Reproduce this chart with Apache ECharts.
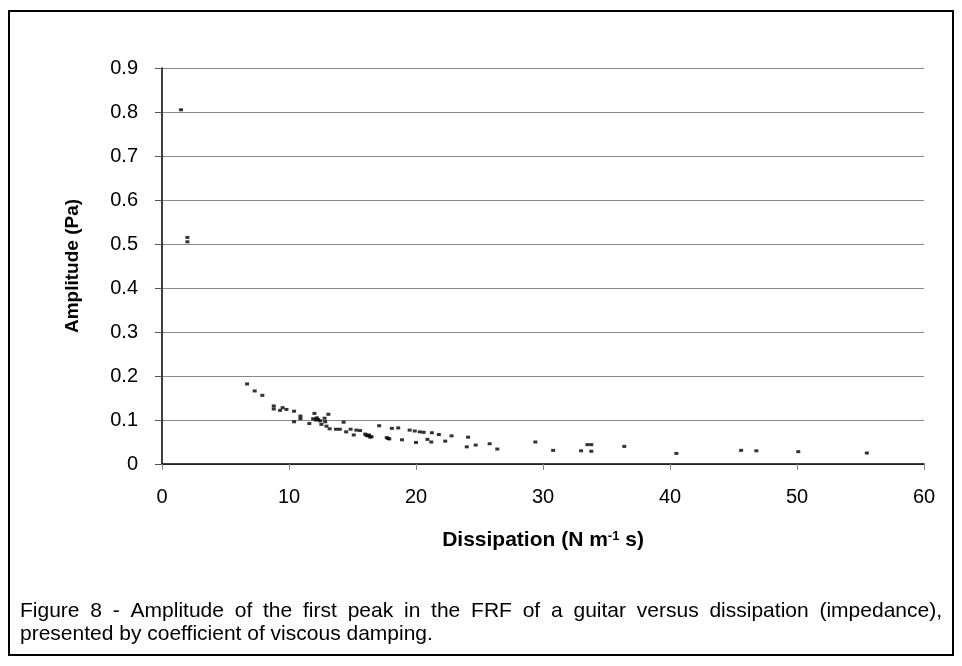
<!DOCTYPE html>
<html>
<head>
<meta charset="utf-8">
<script src="https://cdn.jsdelivr.net/npm/echarts@6/dist/echarts.min.js"></script>
<style>
  html, body { margin: 0; padding: 0; background: #fff; }
  #main { width: 962px; height: 666px; }
</style>
</head>
<body>
<div id="main"></div>
<script>
    // values
    const dissipation = [
        1.5, 2.0, 2.0,
        6.7, 7.3, 7.9, 8.8, 8.8, 9.3, 9.5, 9.8, 10.4, 10.4, 10.9, 10.9,
        11.6, 12.0, 11.9, 12.1, 12.2, 12.3, 12.45, 12.55, 12.8, 12.85, 13.1, 12.95,
        13.2, 13.7, 14.0, 14.3, 14.5, 14.85, 15.1, 15.3, 15.6, 16.0, 16.1, 16.2,
        16.3, 16.4, 16.5, 17.1, 17.7, 17.8, 17.9, 18.1, 18.6, 18.9, 19.5, 19.9,
        20.0, 20.3, 20.6, 20.9, 21.25, 21.2, 21.8, 22.3, 22.8, 24.1, 24.0, 24.7,
        25.8, 26.4, 29.4, 30.8, 33.0, 33.5, 33.8, 33.8, 36.4, 40.5, 45.6, 46.8,
        50.1, 55.5
    ];
    const amplitude = [
        0.805, 0.515, 0.505,
        0.182, 0.166, 0.156, 0.132, 0.125, 0.122, 0.128, 0.124, 0.120, 0.096, 0.109, 0.103,
        0.092, 0.115, 0.103, 0.100, 0.105, 0.101, 0.098, 0.090, 0.104, 0.096, 0.113, 0.086,
        0.080, 0.079, 0.079, 0.095, 0.073, 0.079, 0.066, 0.077, 0.076, 0.068, 0.065, 0.064,
        0.066, 0.061, 0.062, 0.087, 0.060, 0.058, 0.057, 0.081, 0.082, 0.055, 0.077, 0.075,
        0.049, 0.073, 0.072, 0.056, 0.071, 0.050, 0.067, 0.052, 0.064, 0.061, 0.039, 0.043,
        0.046, 0.034, 0.050, 0.031, 0.030, 0.044, 0.044, 0.029, 0.040, 0.024, 0.031, 0.030,
        0.028, 0.025
    ];
    const yTickLabels = ['0', '0.1', '0.2', '0.3', '0.4', '0.5', '0.6', '0.7', '0.8', '0.9'];
    const xTickLabels = ['0', '10', '20', '30', '40', '50', '60'];
    const captionLines = [
        'Figure 8 - Amplitude of the first peak in the FRF of a guitar versus dissipation (impedance),',
        'presented by coefficient of viscous damping.'
    ];

    const FONT = 'Liberation Sans';
    const TICK_SIZE = 20;
    const CAP_SIZE = 21;

    const chart = echarts.init(document.getElementById('main'));

    // word-by-word placement so the first caption line is justified like the original
    function captionText(text, left, right, y, justify) {
        const style = { fill: '#000', fontSize: CAP_SIZE, fontFamily: FONT, verticalAlign: 'middle' };
        if (!justify) {
            return [{ type: 'text', x: left, y: y, style: { ...style, text: text } }];
        }
        const ctx = document.createElement('canvas').getContext('2d');
        ctx.font = CAP_SIZE + 'px "' + FONT + '"';
        const words = text.split(' ');
        const widths = words.map(w => ctx.measureText(w).width);
        const total = widths.reduce((p, n) => p + n, 0);
        const gap = (right - left - total) / (words.length - 1);
        let x = left;
        return words.map((w, i) => {
            const el = { type: 'text', x: x, y: y, style: { ...style, text: w } };
            x += widths[i] + gap;
            return el;
        });
    }

    const option = {
        backgroundColor: '#fff',
        animation: false,
        grid: { left: 162, right: 38, top: 68, bottom: 202 },
        xAxis: {
            type: 'value',
            min: 0,
            max: 60,
            interval: 10,
            name: '{b|Dissipation (N m}{s|-1}{b| s)}',
            nameLocation: 'middle',
            nameGap: 66,
            nameTextStyle: {
                rich: {
                    b: { fontSize: 21, fontWeight: 'bold', fontFamily: FONT, color: '#000' },
                    s: { fontSize: 13, fontWeight: 'bold', fontFamily: FONT, color: '#000', verticalAlign: 'top' }
                }
            },
            axisLine: { onZero: false, lineStyle: { color: '#000', width: 1.5 } },
            axisTick: { show: true, length: 6, lineStyle: { color: '#888' } },
            axisLabel: {
                margin: 23, fontSize: TICK_SIZE, fontFamily: FONT, color: '#000',
                formatter: v => xTickLabels[Math.round(v / 10)]
            },
            splitLine: { show: false }
        },
        yAxis: {
            type: 'value',
            min: 0,
            max: 0.9,
            interval: 0.1,
            name: 'Amplitude (Pa)',
            nameLocation: 'middle',
            nameRotate: 90,
            nameGap: 80,
            nameTextStyle: { fontSize: 19, fontWeight: 'bold', fontFamily: FONT, color: '#000' },
            axisLine: { show: true, lineStyle: { color: '#000', width: 1.5 } },
            axisTick: { show: true, length: 7, lineStyle: { color: '#555' } },
            axisLabel: {
                margin: 24, fontSize: TICK_SIZE, fontFamily: FONT, color: '#000',
                formatter: v => yTickLabels[Math.round(v * 10)]
            },
            splitLine: { show: true, lineStyle: { color: '#888', width: 1 } }
        },
        series: [{
            type: 'scatter',
            symbol: 'rect',
            symbolSize: [4, 3],
            itemStyle: { color: '#000' },
            data: dissipation.map((d, i) => [d, amplitude[i]])
        }],
        graphic: [
            {
                type: 'rect',
                shape: { x: 9, y: 11, width: 944, height: 644 },
                style: { fill: 'none', stroke: '#000', lineWidth: 2 }
            },
            ...captionText(captionLines[0], 20, 942, 611, true),
            ...captionText(captionLines[1], 20, 942, 634, false)
        ]
    };
    chart.setOption(option);
</script>
</body>
</html>
